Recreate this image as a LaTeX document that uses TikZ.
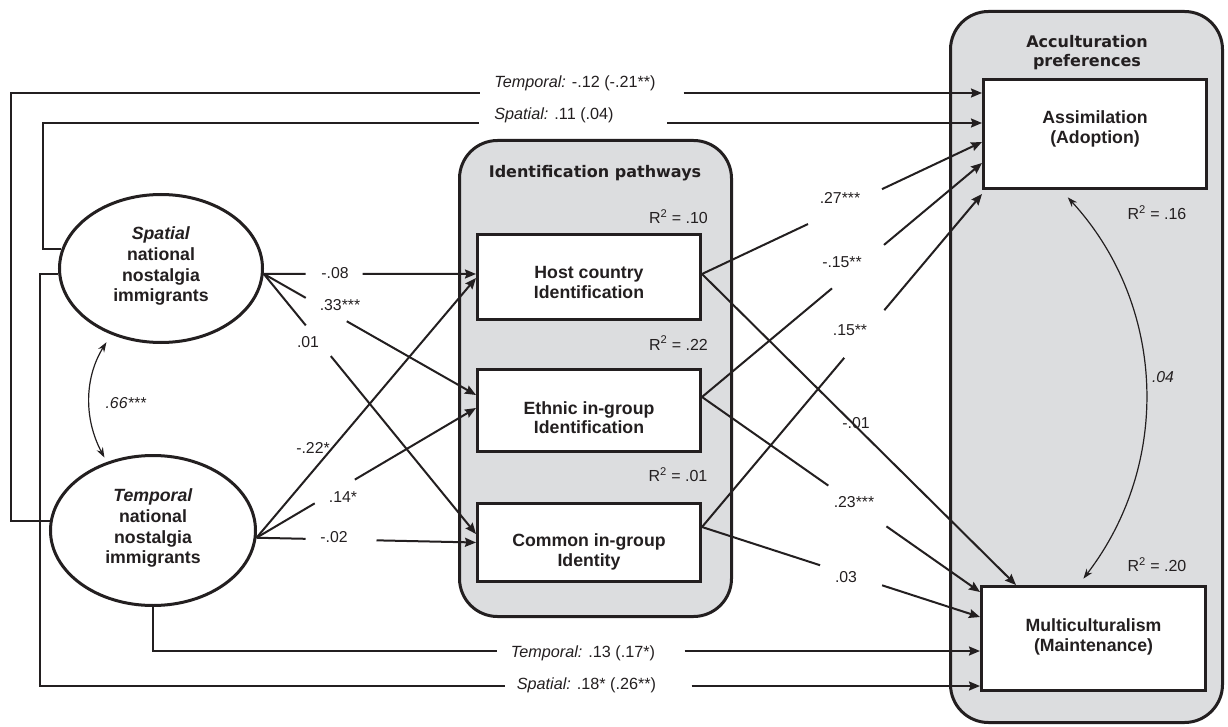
\documentclass[tikz,border=0pt]{standalone}
\usepackage{fontspec}
\setmainfont{Liberation Sans}
\newfontfamily\dejavu{DejaVu Sans}
\usetikzlibrary{shapes.geometric,arrows.meta}
\definecolor{ink}{RGB}{35,31,32}
\definecolor{grp}{RGB}{220,221,223}
\newcommand\myboxf{\fontsize{17.7}{19.5}\selectfont\bfseries}
\newcommand\myellf{\fontsize{17.7}{20.7}\selectfont\bfseries}
\newcommand\mylabf{\fontsize{15.8}{18}\selectfont}
\newcommand\mylongf{\fontsize{16.2}{18}\selectfont}
\newcommand\myrf{\fontsize{16}{18}\selectfont}
\newcommand\myttlf{\dejavu\bfseries\fontsize{16}{19}\selectfont}
\tikzset{
  grpbox/.style={rectangle, draw=ink, line width=3pt, fill=grp, rounded corners=38pt, inner sep=0pt},
  varbox/.style={rectangle, draw=ink, line width=3pt, fill=white, align=center, inner sep=0pt, font=\myboxf, text=ink},
  latent/.style={ellipse, draw=ink, line width=3pt, fill=white, align=center, inner sep=0pt, font=\myellf, text=ink},
  ttl/.style={font=\myttlf, text=ink, align=center, inner sep=0pt},
  lab/.style={font=\mylabf, text=ink, inner sep=0pt},
  longlab/.style={font=\mylongf, text=ink, inner sep=0pt},
  rsq/.style={font=\myrf, text=ink, inner sep=0pt},
  path/.style={draw=ink, line width=2pt, -{Stealth[length=11pt,width=9pt,inset=1.5pt]}},
  cov/.style={draw=ink, line width=1.2pt, {Stealth[length=10pt,width=7pt]}-{Stealth[length=10pt,width=7pt]}}
}
\begin{document}
\begin{tikzpicture}[x=1pt,y=-1pt]
\useasboundingbox (0,0) rectangle (1228,727);
\fill[white] (0,0) rectangle (1228,727);

% group containers
\node[grpbox, minimum width=272pt, minimum height=476pt] (idg) at (595.5,378.5) {};
\node[grpbox, minimum width=272pt, minimum height=711pt] (acg) at (1086.5,367) {};
\node[ttl] (idt) at (595,173) {Identification pathways};
\node[ttl] (act) at (1087,52.5) {Acculturation\\preferences};

% latent variables
\node[latent, minimum width=203pt, minimum height=148pt] (sp) at (161,268.5)
  {\textit{Spatial}\\national\\nostalgia\\immigrants\rule[-8pt]{0pt}{0pt}};
\node[latent, minimum width=205pt, minimum height=150pt] (tp) at (153,530.5)
  {\textit{Temporal}\\national\\nostalgia\\immigrants\rule[-8pt]{0pt}{0pt}};

% identification boxes
\node[varbox, minimum width=223pt, minimum height=85pt] (hc) at (589,277)
  {\rule{0pt}{22.7pt}Host country\\Identification};
\node[varbox, minimum width=223pt, minimum height=82pt] (eth) at (589,410.5)
  {\rule{0pt}{26.7pt}Ethnic in-group\\Identification};
\node[varbox, minimum width=223pt, minimum height=78pt] (cm) at (589,542.5)
  {\rule{0pt}{32pt}Common in-group\\Identity};

% acculturation boxes
\node[varbox, minimum width=223pt, minimum height=109pt] (as) at (1095,134)
  {Assimilation\\(Adoption)\rule[-14pt]{0pt}{0pt}};
\node[varbox, minimum width=224pt, minimum height=104pt] (ml) at (1093.5,638.5)
  {Multiculturalism\\(Maintenance)\rule[-7pt]{0pt}{0pt}};

% R squared
\node[rsq] (r1) at (678.5,217) {R\textsuperscript{2} = .10};
\node[rsq] (r2) at (678.5,343) {R\textsuperscript{2} = .22};
\node[rsq] (r3) at (678,475) {R\textsuperscript{2} = .01};
\node[rsq] (r4) at (1157,213) {R\textsuperscript{2} = .16};
\node[rsq] (r5) at (1157,565) {R\textsuperscript{2} = .20};

% nostalgia -> identification
\draw[path, dash pattern=on 42pt off 57pt on 3000pt] (sp.-3) -- ([yshift=3pt]hc.west);
\draw[path, dash pattern=on 48.4pt off 47.2pt on 3000pt] (sp.-3) -- ([yshift=15.5pt]eth.west);
\draw[path, dash pattern=on 66.5pt off 39.6pt on 3000pt] (sp.-3) -- ([yshift=8.5pt]cm.west);
\draw[path] (tp.-4.5) -- ([yshift=-1pt]hc.west);
\draw[path, dash pattern=on 67.6pt off 46.6pt on 3000pt] (tp.-4.5) -- ([yshift=2.5pt]eth.west);
\draw[path, dash pattern=on 49pt off 71pt on 3000pt] (tp.-4.5) -- (cm.west);

% identification -> acculturation
\draw[path, dash pattern=on 117.2pt off 81.8pt on 3000pt] ([yshift=3pt]hc.east) -- ([yshift=-8pt]as.west);
\draw[path] ([yshift=3pt]hc.east) -- ([xshift=-77.5pt]ml.north);
\draw[path, dash pattern=on 169.4pt off 67.8pt on 3000pt] ([yshift=13.5pt]eth.east) -- ([yshift=-29pt]as.west);
\draw[path, dash pattern=on 154.3pt off 71pt on 3000pt] ([yshift=13.5pt]eth.east) -- ([yshift=46.5pt]ml.west);
\draw[path, dash pattern=on 221pt off 62.3pt on 3000pt] ([yshift=15.5pt]cm.east) -- ([yshift=-4pt]as.south west);
\draw[path, dash pattern=on 124.1pt off 65.2pt on 3000pt] ([yshift=15.5pt]cm.east) -- ([yshift=21.5pt]ml.west);

% direct effects
\coordinate (c13) at (11,93);
\coordinate (c14) at (43,123);
\coordinate (c15) at (40,686);
\coordinate (c16) at (153,651);
\draw[path, dash pattern=on 935.7pt off 204pt on 3000pt] (tp.175) -| (c13) -- (c13 -| as.west);
\draw[path, dash pattern=on 581pt off 188pt on 3000pt] (sp.169) -| (c14) -- (c14 -| as.west);
\draw[path, dash pattern=on 895pt off 187pt on 3000pt] (sp.183) -| (c15) -- (c15 -| ml.west);
\draw[path, dash pattern=on 387.5pt off 188pt on 3000pt] (tp.south) -- (c16) -- (c16 -| ml.west);

% covariances
\draw[cov, shorten <=9pt, shorten >=5pt] (sp.-127) to[bend right=30] (tp.124);
\draw[cov, shorten <=10pt, shorten >=8pt] ([xshift=-34pt]as.south) to[bend left=40] ([xshift=-15pt]ml.north);

% coefficient labels
\node[lab] (l1) at (335,273) {-.08};
\node[lab] (l2) at (340,305) {.33***};
\node[lab] (l3) at (308,342) {.01};
\node[lab] (l4) at (313,448) {-.22*};
\node[lab] (l5) at (343,497) {.14*};
\node[lab] (l6) at (334,537) {-.02};
\node[lab] (l7) at (840,198) {.27***};
\node[lab] (l8) at (842,262) {-.15**};
\node[lab] (l9) at (850,330) {.15**};
\node[lab] (l10) at (856,423) {-.01};
\node[lab] (l11) at (854,502) {.23***};
\node[lab] (l12) at (846,577) {.03};
\node[lab] (l13) at (126,403) {\textit{.66***}};
\node[lab] (l14) at (1163,377) {\textit{.04}};
\node[longlab] (t1) at (575,83) {\textit{Temporal:} -.12 (-.21**)};
\node[longlab] (t2) at (554,115) {\textit{Spatial:} .11 (.04)};
\node[longlab] (t3) at (583,653) {\textit{Temporal:} .13 (.17*)};
\node[longlab] (t4) at (586.5,685) {\textit{Spatial:} .18* (.26**)};
\end{tikzpicture}
\end{document}
